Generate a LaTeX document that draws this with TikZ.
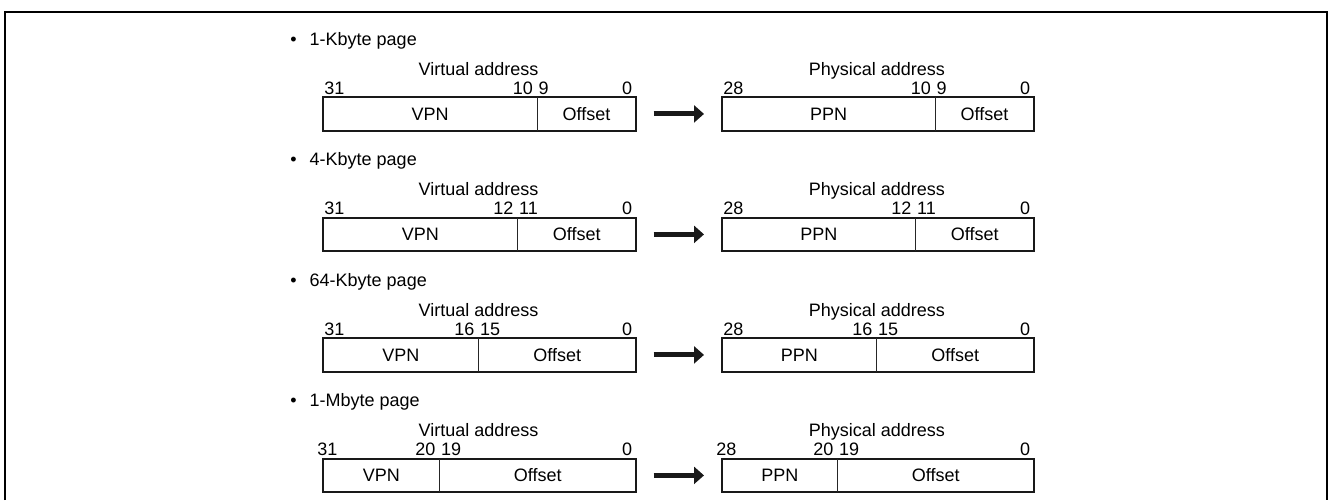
\documentclass[tikz,border=0pt]{standalone}
\usepackage{fontspec}
\setmainfont{Liberation Sans}
\usetikzlibrary{arrows.meta}

\begin{document}
\begin{tikzpicture}[x=0.5pt,y=-0.5pt]
    \tikzstyle{field} = [rectangle, inner sep=0pt, minimum height=16.5pt, text centered, font=\fontsize{9}{10}\selectfont]
    \tikzstyle{bits} = [inner sep=0pt, font=\fontsize{9}{10}\selectfont]
    \tikzstyle{boxline} = [line width=1pt, black!90]
    \tikzstyle{divider} = [line width=0.6pt, black!85]
    \tikzstyle{arrow} = [line width=2.5pt, -{Triangle[length=5pt,width=8.5pt]}, shorten <=9pt, shorten >=9pt, black!90]
    \tikzstyle{frame} = [line width=1pt]

    \useasboundingbox (0,0) rectangle (1330,500);
    \draw[frame] (5,500) -- (5,12) -- (1327,12) -- (1327,500);

    \foreach \i/\size/\hi/\lo/\dx in {0/1-Kbyte/10/9/0, 1/4-Kbyte/12/11/0, 2/64-Kbyte/16/15/0, 3/1-Mbyte/20/19/-7} {
        \pgfmathsetmacro{\rowy}{97+120.5*\i}
        \pgfmathsetmacro{\offw}{(\lo+1)*9.75}

        % page size
        \node[bits, anchor=base west] (title\i) at (290,\rowy-52) {\textbullet\hspace{6.5pt}\size\ page};

        % virtual address
        \node[bits, anchor=base] (vtitle\i) at (478.5,\rowy-22) {Virtual address};
        \node[field, anchor=north west, minimum width={(311-\offw)*0.5pt}] (vpn\i) at (323,\rowy) {VPN};
        \node[field, anchor=north west, minimum width={\offw*0.5pt}] (voff\i) at (vpn\i.north east) {Offset};
        \draw[boxline] (vpn\i.north west) rectangle (voff\i.south east);
        \draw[divider] (voff\i.north west) -- (voff\i.south west);
        \node[bits, anchor=base west] (vmsb\i) at ([shift={(\dx+1,-3)}]vpn\i.north west) {31};
        \node[bits, anchor=base east] (vhi\i) at ([shift={(-4,-3)}]voff\i.north west) {\hi};
        \node[bits, anchor=base west] (vlo\i) at ([shift={(1,-3)}]voff\i.north west) {\lo};
        \node[bits, anchor=base east] (vlsb\i) at ([shift={(-3,-3)}]voff\i.north east) {0};

        % physical address
        \node[bits, anchor=base] (ptitle\i) at (877,\rowy-22) {Physical address};
        \node[field, anchor=north west, minimum width={(310-\offw)*0.5pt}] (ppn\i) at (722,\rowy) {PPN};
        \node[field, anchor=north west, minimum width={\offw*0.5pt}] (poff\i) at (ppn\i.north east) {Offset};
        \draw[boxline] (ppn\i.north west) rectangle (poff\i.south east);
        \draw[divider] (poff\i.north west) -- (poff\i.south west);
        \node[bits, anchor=base west] (pmsb\i) at ([shift={(\dx+1,-3)}]ppn\i.north west) {28};
        \node[bits, anchor=base east] (phi\i) at ([shift={(-4,-3)}]poff\i.north west) {\hi};
        \node[bits, anchor=base west] (plo\i) at ([shift={(1,-3)}]poff\i.north west) {\lo};
        \node[bits, anchor=base east] (plsb\i) at ([shift={(-3,-3)}]poff\i.north east) {0};

        \draw[arrow] (voff\i.east) -- (ppn\i.west);
    }
\end{tikzpicture}
\end{document}
